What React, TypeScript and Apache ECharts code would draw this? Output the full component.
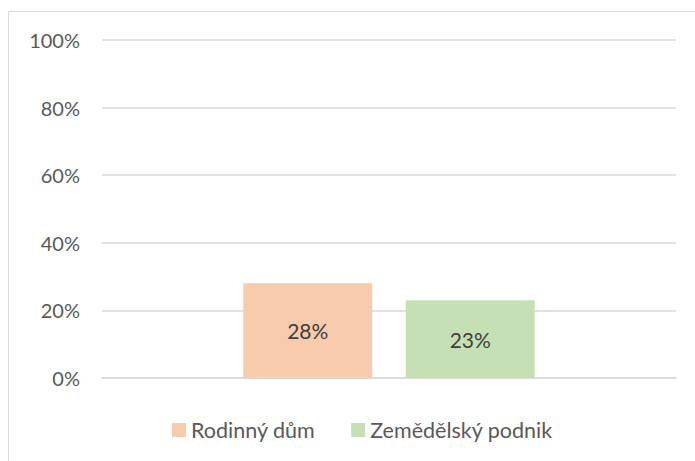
import React, { useEffect, useRef } from "react";
import * as echarts from "echarts";

const categories = [""];
const seriesNames = ["Rodinný dům", "Zemědělský podnik"];
const seriesValues = [[28], [23]];
const seriesColors = ["#F8CBAD", "#C5E0B4"];
const yTicks = [0, 20, 40, 60, 80, 100];

const FONT = "Lato, 'Open Sans', sans-serif";

export default function App() {
  const ref = useRef<HTMLDivElement>(null);
  useEffect(() => {
    if (!ref.current) return;
    const chart = echarts.init(ref.current, undefined, { renderer: "svg" });
    chart.setOption({
      animation: false,
      backgroundColor: "#ffffff",
      graphic: [
        {
          type: "rect",
          shape: { x: 8.5, y: 11.5, width: 900, height: 900 },
          style: { fill: "none", stroke: "#d9d9d9", lineWidth: 1 },
          silent: true,
        },
      ],
      grid: { left: 102, right: 19, top: 40, bottom: 83, containLabel: false },
      legend: {
        top: 414,
        left: 167,
        itemWidth: 14,
        itemHeight: 14,
        itemGap: 36,
        icon: "rect",
        textStyle: { color: "#595959", fontSize: 21.5, fontFamily: FONT },
        data: seriesNames,
      },
      xAxis: {
        type: "category",
        data: categories,
        axisLine: { lineStyle: { color: "#d9d9d9", width: 1.5 } },
        axisTick: { show: false },
        axisLabel: { show: false },
      },
      yAxis: {
        type: "value",
        min: yTicks[0],
        max: yTicks[yTicks.length - 1],
        interval: 20,
        axisLine: { show: false },
        axisTick: { show: false },
        splitLine: { lineStyle: { color: "#d9d9d9", width: 1.5 } },
        axisLabel: {
          color: "#595959",
          fontSize: 20,
          fontFamily: FONT,
          margin: 22,
          formatter: (v: number) => `${v}%`,
        },
      },
      series: seriesNames.map((name, i) => ({
        name,
        type: "bar",
        data: seriesValues[i],
        barWidth: 129,
        barGap: "26%",
        itemStyle: { color: seriesColors[i] },
        label: {
          show: true,
          position: "inside",
          color: "#404040",
          fontSize: 21,
          fontFamily: FONT,
          formatter: (p: any) => `${p.value}%`,
        },
      })),
    });
    return () => chart.dispose();
  }, []);
  return (
    <div
      ref={ref}
      style={{ position: "absolute", left: 0, top: 0, width: 695, height: 461 }}
    />
  );
}
